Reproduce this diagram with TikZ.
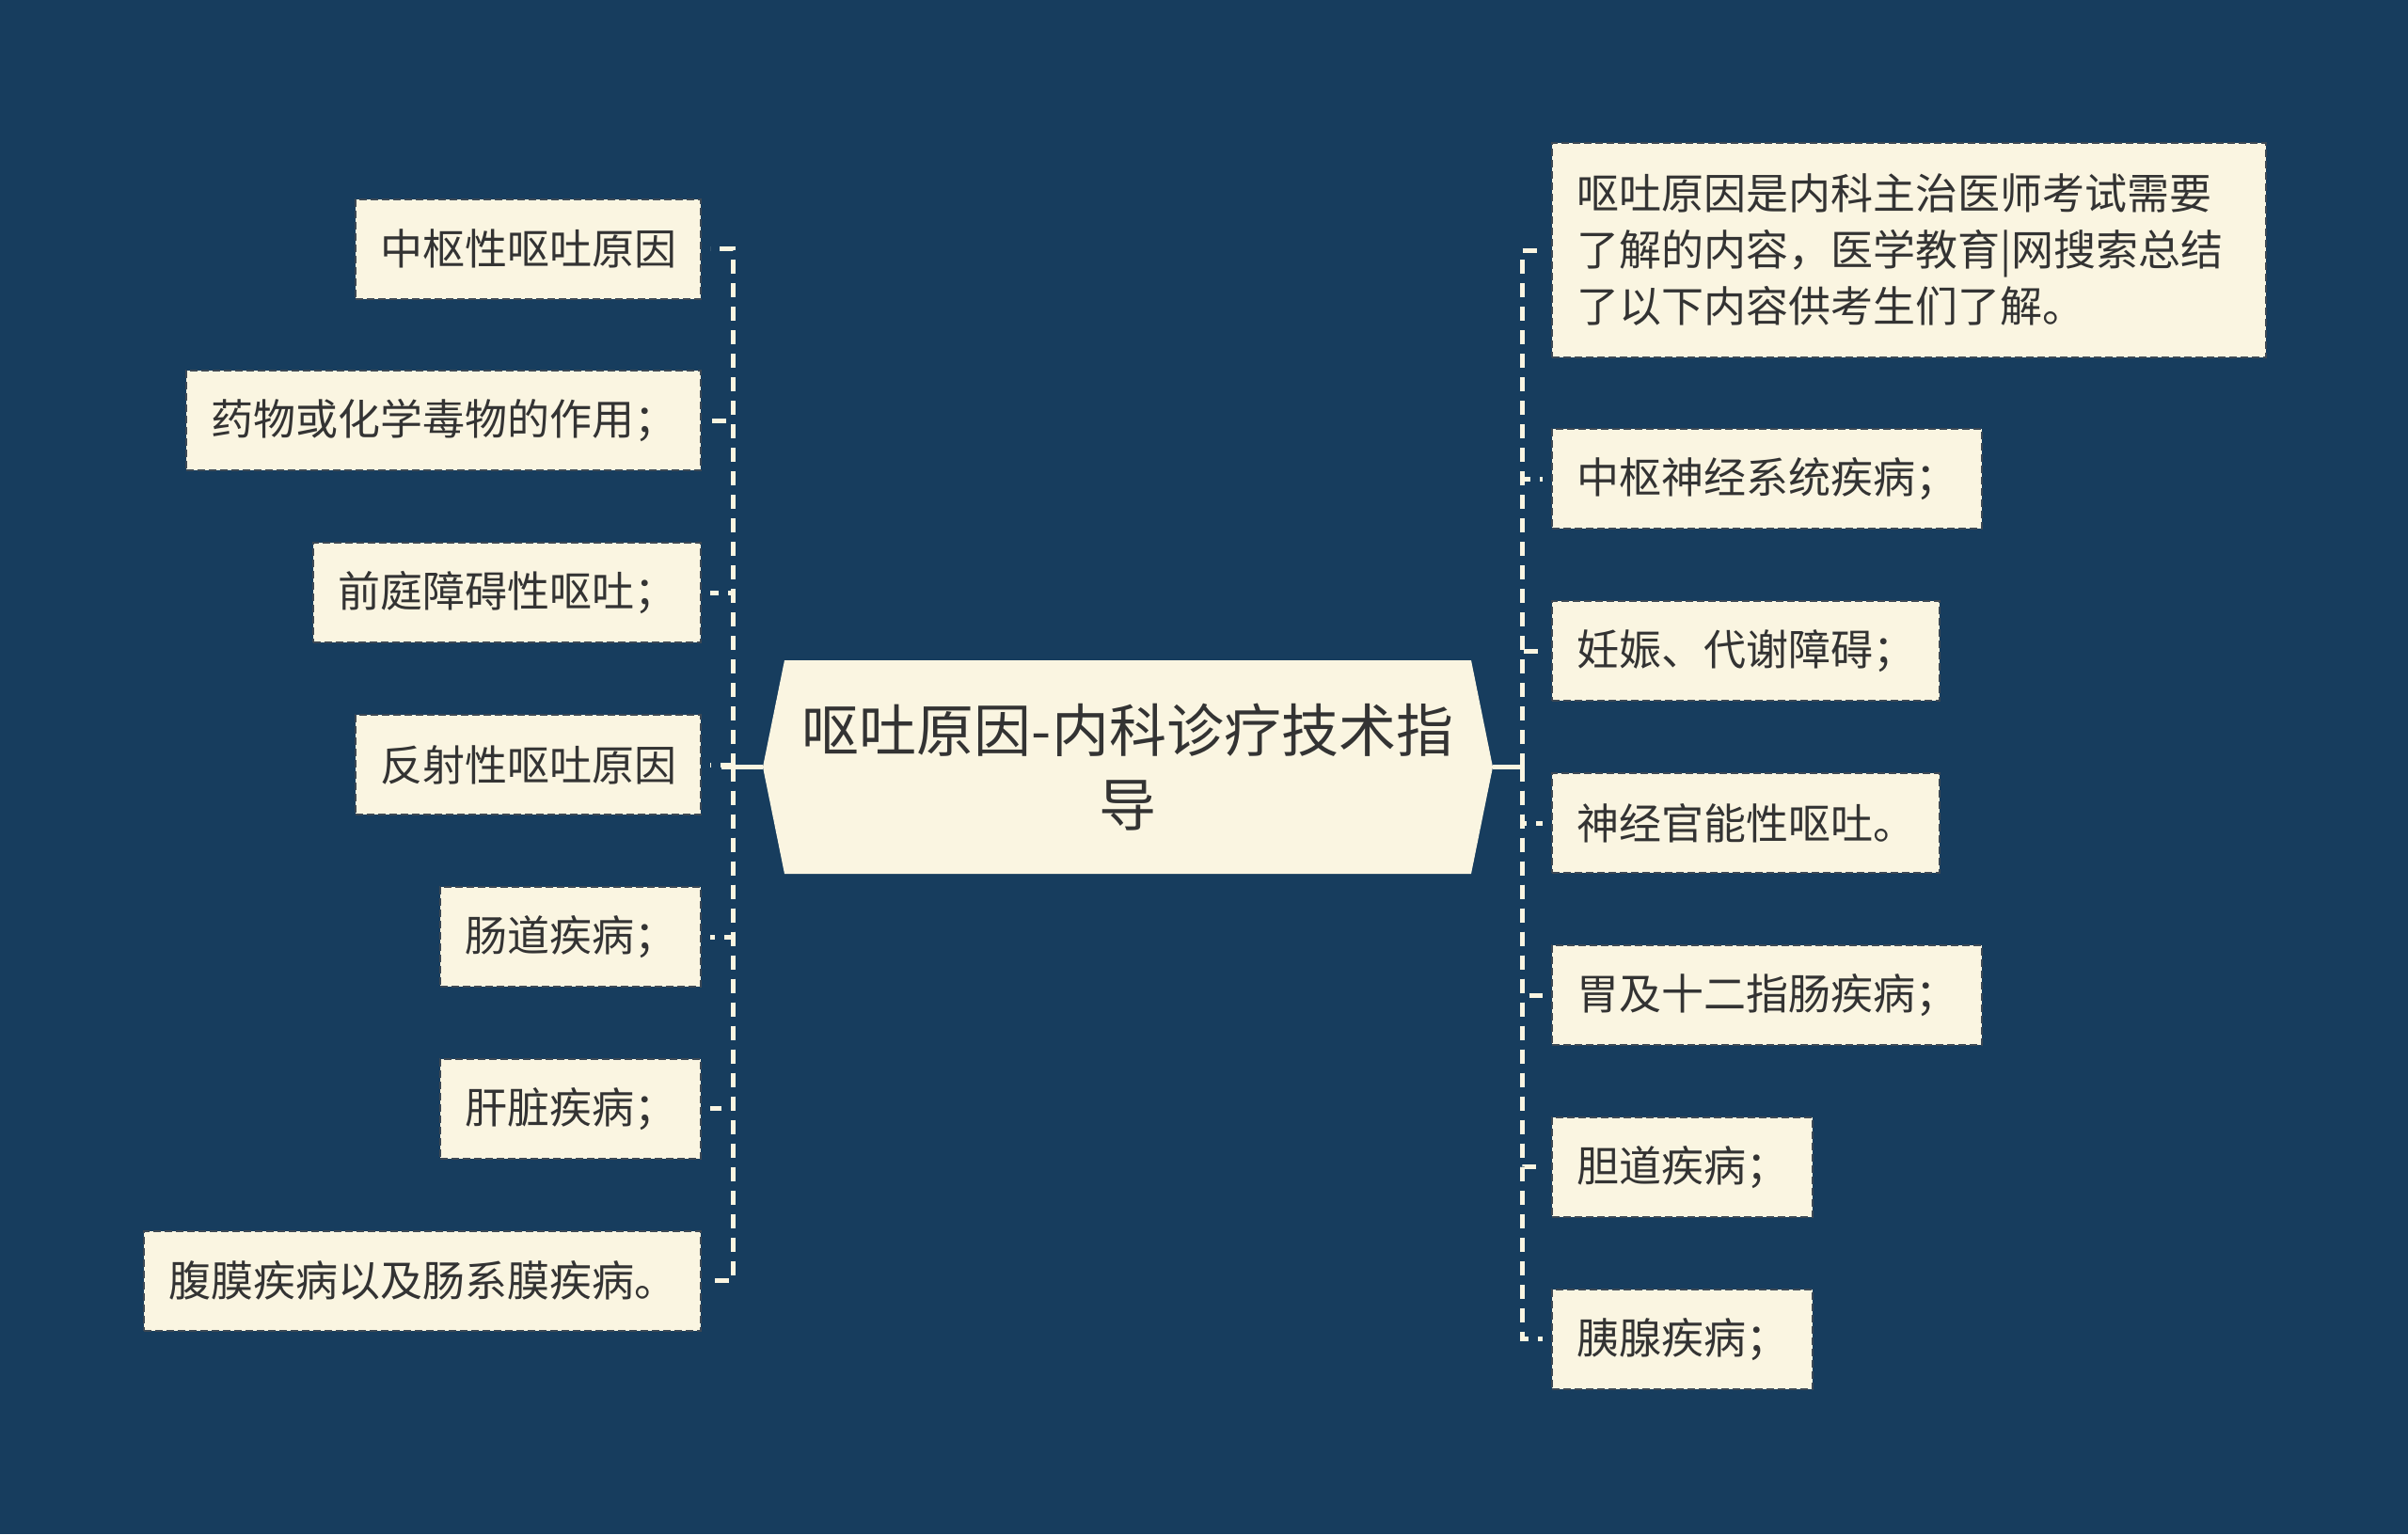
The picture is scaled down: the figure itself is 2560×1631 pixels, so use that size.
\documentclass[tikz,border=0pt]{standalone}
\usepackage{fontspec}
\setmainfont{Noto Sans CJK SC}
\definecolor{bg}{RGB}{23,61,94}
\definecolor{cream}{RGB}{250,245,225}
\definecolor{txt}{RGB}{51,51,51}
\definecolor{bd}{RGB}{60,72,84}
\begin{document}
\begin{tikzpicture}[x=1pt,y=-1pt,
  leaf/.style={draw=bd, fill=cream, line width=2pt, dash pattern=on 8pt off 4pt,
    text=txt, font=\fontsize{45pt}{60pt}\selectfont, inner xsep=26pt, inner ysep=0pt,
    minimum height=106pt},
  conn/.style={draw=cream, line width=5pt, dash pattern=on 15pt off 10pt},
  connsolid/.style={draw=cream, line width=5pt}]
\fill[bg] (0,0) rectangle (2560,1631);
\useasboundingbox (0,0) rectangle (2560,1631);

% central hexagon
\fill[cream] (811,815.5) -- (834,702) -- (1564,702) -- (1587,815.5) -- (1564,929) -- (834,929) -- cycle;
\coordinate (hL) at (811,815.5);
\coordinate (hR) at (1587,815.5);
\node[text=txt, font=\fontsize{61pt}{79pt}\selectfont, align=center, inner sep=0pt] (c) at (1199,815.5)
  {呕吐原因-内科诊疗技术指\\导};
\coordinate (jL) at (779,815.5);
\coordinate (jR) at (1618,815.5);

% left nodes
\node[leaf, anchor=east] (L1) at (746,264.5) {中枢性呕吐原因};
\node[leaf, anchor=east] (L2) at (746,447.4) {药物或化学毒物的作用；};
\node[leaf, anchor=east] (L3) at (746,630.2) {前庭障碍性呕吐；};
\node[leaf, anchor=east] (L4) at (746,813.1) {反射性呕吐原因};
\node[leaf, anchor=east] (L5) at (746,996) {肠道疾病；};
\node[leaf, anchor=east] (L6) at (746,1178.8) {肝脏疾病；};
\node[leaf, anchor=east] (L7) at (746,1361.7) {腹膜疾病以及肠系膜疾病。};

% right nodes
\node[leaf, anchor=west, text width=707pt, align=left, minimum height=228pt] (R1) at (1649,266)
  {呕吐原因是内科主治医师考试需要\\了解的内容，医学教育|网搜索总结\\了以下内容供考生们了解。};
\node[leaf, anchor=west] (R2) at (1649,509.4) {中枢神经系统疾病；};
\node[leaf, anchor=west] (R3) at (1649,692.3) {妊娠、代谢障碍；};
\node[leaf, anchor=west] (R4) at (1649,875.1) {神经官能性呕吐。};
\node[leaf, anchor=west] (R5) at (1649,1058) {胃及十二指肠疾病；};
\node[leaf, anchor=west] (R6) at (1649,1240.9) {胆道疾病；};
\node[leaf, anchor=west] (R7) at (1649,1423.7) {胰腺疾病；};

% connectors
\draw[connsolid] (hL) -- ([xshift=-12pt]jL);
\draw[connsolid] (hR) -- (jR);
\foreach \n in {L1,L2,L3,L4,L5,L6,L7}
  \draw[conn] (jL) |- ([xshift=9pt]\n.east);
\foreach \n in {R1,R2,R3,R4,R5,R6,R7}
  \draw[conn] (jR) |- ([xshift=-9pt]\n.west);
\end{tikzpicture}
\end{document}
